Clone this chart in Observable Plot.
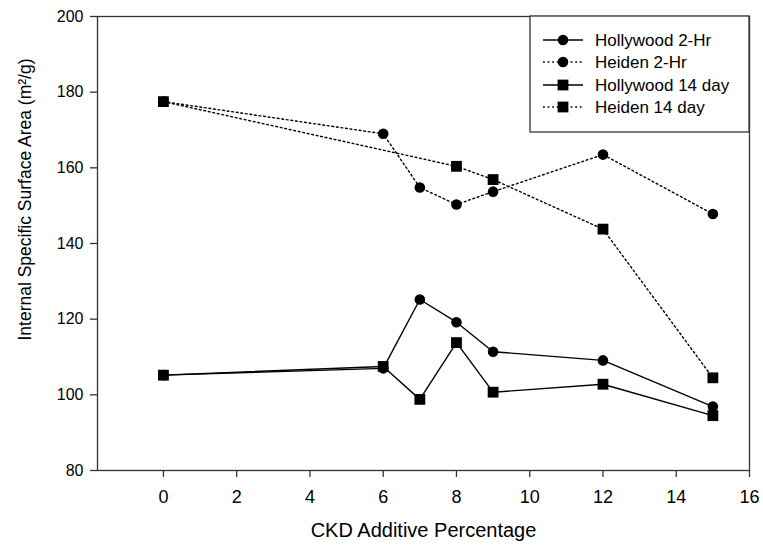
<!DOCTYPE html>
<html>
<head>
<meta charset="utf-8">
<script src="https://cdn.jsdelivr.net/npm/d3@7"></script>
<script src="https://cdn.jsdelivr.net/npm/@observablehq/plot@0.6"></script>
<style>
  html, body { margin: 0; padding: 0; background: #fff; }
  #chart svg { display: block; font-family: "Liberation Sans", Arial, sans-serif; }
</style>
</head>
<body>
<div id="chart"></div>
<script>
// ---- data ----
const ckdPercent = [0, 6, 7, 8, 9, 12, 15];
const hollywood2Hr = [105.2, 107.0, 125.2, 119.2, 111.4, 109.1, 96.9];
const heiden2Hr = [177.5, 169.0, 154.8, 150.3, 153.7, 163.5, 147.8];
const hollywood14Day = [105.2, 107.5, 98.8, 113.8, 100.7, 102.8, 94.5];
const heiden14Day = [177.5, null, null, 160.4, 156.9, 143.8, 104.5];

const seriesNames = ["Hollywood 2-Hr", "Heiden 2-Hr", "Hollywood 14 day", "Heiden 14 day"];
const seriesValues = [hollywood2Hr, heiden2Hr, hollywood14Day, heiden14Day];
const seriesSymbol = ["circle", "circle", "square", "square"];
const seriesDotted = [false, true, false, true];

const xTicks = [0, 2, 4, 6, 8, 10, 12, 14, 16];
const yTicks = [80, 100, 120, 140, 160, 180, 200];

const xTitle = "CKD Additive Percentage";
const yTitle = "Internal Specific Surface Area (m²/g)";

// ---- build rows ----
const rows = [];
seriesNames.forEach((name, s) => {
  ckdPercent.forEach((x, i) => {
    const v = seriesValues[s][i];
    if (v != null) rows.push({series: name, x, y: v});
  });
});

const W = 763, H = 550;
const DASH = "1.8,2.8";
const marks = [];
seriesNames.forEach((name, s) => {
  const d = rows.filter(r => r.series === name);
  marks.push(Plot.line(d, {
    x: "x", y: "y", stroke: "#000", strokeWidth: 1.4,
    strokeDasharray: seriesDotted[s] ? DASH : null
  }));
});
seriesNames.forEach((name, s) => {
  const d = rows.filter(r => r.series === name);
  marks.push(Plot.dot(d, {
    x: "x", y: "y", symbol: () => seriesSymbol[s], fill: "#000", stroke: "none",
    r: seriesSymbol[s] === "square" ? 6.1 : 5.3
  }));
});

const chart = Plot.plot({
  width: W,
  height: H,
  marginLeft: 97,
  marginRight: 14,
  marginTop: 16,
  marginBottom: 80,
  style: {fontFamily: "'Liberation Sans', Arial, sans-serif", background: "#fff", color: "#000"},
  x: {domain: [-1.8, 16], ticks: xTicks, tickSize: 7, tickPadding: 13, label: null, tickFormat: d => String(d)},
  y: {domain: [80, 200], ticks: yTicks, tickSize: 7, tickPadding: 7, label: null},
  symbol: {type: "identity"},
  marks: [
    ...marks,
    Plot.frame({stroke: "#333", strokeWidth: 1.3}),
    Plot.text([xTitle], {frameAnchor: "bottom", dy: 60, fontSize: 20, fill: "#000", text: d => d, textAnchor: "middle", lineAnchor: "middle"}),
    Plot.text([yTitle], {frameAnchor: "left", dx: -72, dy: -44, rotate: -90, fontSize: 17.5, fill: "#000", text: d => d, textAnchor: "middle", lineAnchor: "middle"})
  ]
});

// axis styling
d3.select(chart).selectAll("g[aria-label='x-axis tick label']").attr("font-size", 18);
d3.select(chart).selectAll("g[aria-label='y-axis tick label']").attr("font-size", 16);
d3.select(chart).selectAll("g[aria-label='x-axis tick'], g[aria-label='y-axis tick']").attr("stroke", "#333").attr("stroke-width", 1.3);

document.getElementById("chart").appendChild(chart);

// ---- legend (inside plot, top-right) ----
const svg = d3.select(chart);
const lg = svg.append("g").attr("aria-label", "legend").attr("text-anchor", "start");
const boxX = 530, boxY = 16, boxW = 219, boxH = 116;
lg.append("rect").attr("x", boxX).attr("y", boxY).attr("width", boxW).attr("height", boxH)
  .attr("fill", "#fff").attr("stroke", "#333").attr("stroke-width", 1.3);
const rowY = [40, 62, 85, 107];
seriesNames.forEach((name, s) => {
  const y = rowY[s];
  lg.append("line").attr("x1", 543).attr("x2", 583).attr("y1", y).attr("y2", y)
    .attr("stroke", "#000").attr("stroke-width", 1.4)
    .attr("stroke-dasharray", seriesDotted[s] ? DASH : null);
  if (seriesSymbol[s] === "circle") {
    lg.append("circle").attr("cx", 563).attr("cy", y).attr("r", 5.3).attr("fill", "#000");
  } else {
    lg.append("rect").attr("x", 563 - 5.4).attr("y", y - 5.4).attr("width", 10.8).attr("height", 10.8).attr("fill", "#000");
  }
  lg.append("text").attr("x", 595).attr("y", y).attr("dy", "0.35em")
    .attr("text-anchor", "start").attr("font-size", 17).attr("fill", "#000").text(name);
});
</script>
</body>
</html>
